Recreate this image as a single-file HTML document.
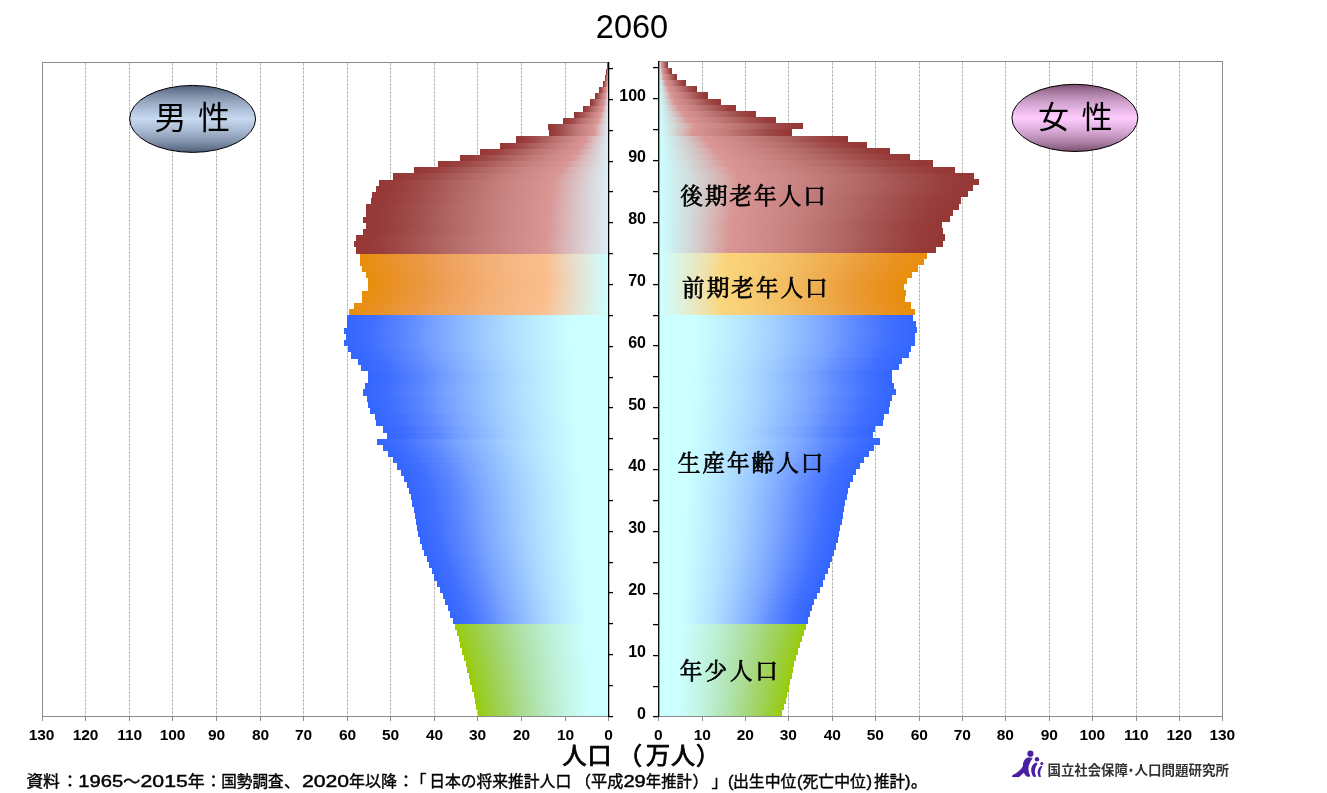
<!DOCTYPE html>
<html lang="ja"><head><meta charset="utf-8"><title>2060</title>
<style>html,body{margin:0;padding:0;background:#fff}svg{display:block}.ax{font-family:"Liberation Sans","Noto Sans CJK JP",sans-serif;font-weight:bold;fill:#000}.go{font-family:"Liberation Sans","Noto Sans CJK JP",sans-serif;fill:#000}.mi{font-family:"Liberation Serif","Noto Serif CJK SC",serif;font-weight:normal;fill:#000;stroke:#000;stroke-width:0.75px}</style></head><body>
<svg width="1327" height="793" viewBox="0 0 1327 793">
<defs>
<linearGradient id="mr" x1="0" y1="0" x2="1" y2="0"><stop offset="0.0000" stop-color="#953735"/><stop offset="0.0472" stop-color="#963a38"/><stop offset="0.0944" stop-color="#983e3c"/><stop offset="0.1416" stop-color="#9c4543"/><stop offset="0.1888" stop-color="#9f4b49"/><stop offset="0.2359" stop-color="#a45351"/><stop offset="0.2831" stop-color="#a95b59"/><stop offset="0.3303" stop-color="#af6361"/><stop offset="0.3775" stop-color="#b46a68"/><stop offset="0.4247" stop-color="#b9716f"/><stop offset="0.4719" stop-color="#bf7876"/><stop offset="0.5191" stop-color="#c47e7c"/><stop offset="0.5663" stop-color="#c98482"/><stop offset="0.6134" stop-color="#cd8987"/><stop offset="0.6606" stop-color="#d18d8b"/><stop offset="0.7078" stop-color="#d59290"/><stop offset="0.7550" stop-color="#d99694"/><stop offset="0.7703" stop-color="#d99d9c"/><stop offset="0.7856" stop-color="#d9a4a4"/><stop offset="0.8009" stop-color="#d9abab"/><stop offset="0.8163" stop-color="#dab1b2"/><stop offset="0.8316" stop-color="#dab7b9"/><stop offset="0.8469" stop-color="#dabdbf"/><stop offset="0.8622" stop-color="#dac2c5"/><stop offset="0.8775" stop-color="#dac8cb"/><stop offset="0.8928" stop-color="#dacdd1"/><stop offset="0.9081" stop-color="#dad2d6"/><stop offset="0.9234" stop-color="#dad7db"/><stop offset="0.9387" stop-color="#dbdce1"/><stop offset="0.9541" stop-color="#dbe1e6"/><stop offset="0.9694" stop-color="#dbe5eb"/><stop offset="0.9847" stop-color="#dbeaef"/><stop offset="1.0000" stop-color="#DBEEF4"/></linearGradient>
<linearGradient id="fr" x1="0" y1="0" x2="1" y2="0"><stop offset="0.0000" stop-color="#CCFFFF"/><stop offset="0.0153" stop-color="#cdfafa"/><stop offset="0.0306" stop-color="#cef5f5"/><stop offset="0.0459" stop-color="#cfefef"/><stop offset="0.0613" stop-color="#cfeaea"/><stop offset="0.0766" stop-color="#d0e4e4"/><stop offset="0.0919" stop-color="#d1dfde"/><stop offset="0.1072" stop-color="#d2d9d8"/><stop offset="0.1225" stop-color="#d3d2d2"/><stop offset="0.1378" stop-color="#d3cccb"/><stop offset="0.1531" stop-color="#d4c5c5"/><stop offset="0.1684" stop-color="#d5bebd"/><stop offset="0.1837" stop-color="#d6b7b6"/><stop offset="0.1991" stop-color="#d7b0ae"/><stop offset="0.2144" stop-color="#d7a8a6"/><stop offset="0.2297" stop-color="#d89f9d"/><stop offset="0.2450" stop-color="#d99694"/><stop offset="0.2922" stop-color="#d59290"/><stop offset="0.3394" stop-color="#d18d8b"/><stop offset="0.3866" stop-color="#cd8987"/><stop offset="0.4337" stop-color="#c98482"/><stop offset="0.4809" stop-color="#c47e7c"/><stop offset="0.5281" stop-color="#bf7876"/><stop offset="0.5753" stop-color="#b9716f"/><stop offset="0.6225" stop-color="#b46a68"/><stop offset="0.6697" stop-color="#af6361"/><stop offset="0.7169" stop-color="#a95b59"/><stop offset="0.7641" stop-color="#a45351"/><stop offset="0.8113" stop-color="#9f4b49"/><stop offset="0.8584" stop-color="#9c4543"/><stop offset="0.9056" stop-color="#983e3c"/><stop offset="0.9528" stop-color="#963a38"/><stop offset="1.0000" stop-color="#953735"/></linearGradient>
<linearGradient id="mo" x1="0" y1="0" x2="1" y2="0"><stop offset="0.0000" stop-color="#e88e0a"/><stop offset="0.0472" stop-color="#e88f18"/><stop offset="0.0944" stop-color="#e99021"/><stop offset="0.1416" stop-color="#e9932e"/><stop offset="0.1888" stop-color="#ea9538"/><stop offset="0.2359" stop-color="#eb9842"/><stop offset="0.2831" stop-color="#ed9c4d"/><stop offset="0.3303" stop-color="#eea057"/><stop offset="0.3775" stop-color="#efa45f"/><stop offset="0.4247" stop-color="#f1a867"/><stop offset="0.4719" stop-color="#f2ac6f"/><stop offset="0.5191" stop-color="#f4b076"/><stop offset="0.5663" stop-color="#f5b47c"/><stop offset="0.6134" stop-color="#f6b782"/><stop offset="0.6606" stop-color="#f8ba87"/><stop offset="0.7078" stop-color="#f9bd8b"/><stop offset="0.7550" stop-color="#fac090"/><stop offset="0.7703" stop-color="#f7c59a"/><stop offset="0.7856" stop-color="#f5c9a3"/><stop offset="0.8009" stop-color="#f2ceac"/><stop offset="0.8163" stop-color="#efd2b4"/><stop offset="0.8316" stop-color="#edd6bb"/><stop offset="0.8469" stop-color="#eadac3"/><stop offset="0.8622" stop-color="#e7deca"/><stop offset="0.8775" stop-color="#e4e2d1"/><stop offset="0.8928" stop-color="#e2e6d7"/><stop offset="0.9081" stop-color="#dfeadd"/><stop offset="0.9234" stop-color="#dcede3"/><stop offset="0.9387" stop-color="#d9f1e9"/><stop offset="0.9541" stop-color="#d6f5ef"/><stop offset="0.9694" stop-color="#d2f8f4"/><stop offset="0.9847" stop-color="#cffcfa"/><stop offset="1.0000" stop-color="#CCFFFF"/></linearGradient>
<linearGradient id="fo" x1="0" y1="0" x2="1" y2="0"><stop offset="0.0000" stop-color="#CCFFFF"/><stop offset="0.0153" stop-color="#cffdf9"/><stop offset="0.0306" stop-color="#d2faf3"/><stop offset="0.0459" stop-color="#d6f8ed"/><stop offset="0.0613" stop-color="#d9f6e7"/><stop offset="0.0766" stop-color="#dcf3e0"/><stop offset="0.0919" stop-color="#dff1d9"/><stop offset="0.1072" stop-color="#e2eed2"/><stop offset="0.1225" stop-color="#e4eccb"/><stop offset="0.1378" stop-color="#e7e9c3"/><stop offset="0.1531" stop-color="#eae6bb"/><stop offset="0.1684" stop-color="#ede4b2"/><stop offset="0.1837" stop-color="#efe1a9"/><stop offset="0.1991" stop-color="#f2dea0"/><stop offset="0.2144" stop-color="#f5dc95"/><stop offset="0.2297" stop-color="#f7d98a"/><stop offset="0.2450" stop-color="#fad67d"/><stop offset="0.2922" stop-color="#f9d279"/><stop offset="0.3394" stop-color="#f8ce75"/><stop offset="0.3866" stop-color="#f6ca71"/><stop offset="0.4337" stop-color="#f5c56c"/><stop offset="0.4809" stop-color="#f4c066"/><stop offset="0.5281" stop-color="#f2bb60"/><stop offset="0.5753" stop-color="#f1b559"/><stop offset="0.6225" stop-color="#efaf52"/><stop offset="0.6697" stop-color="#eeaa4b"/><stop offset="0.7169" stop-color="#eda443"/><stop offset="0.7641" stop-color="#eb9e3a"/><stop offset="0.8113" stop-color="#ea9930"/><stop offset="0.8584" stop-color="#e99528"/><stop offset="0.9056" stop-color="#e9911d"/><stop offset="0.9528" stop-color="#e89015"/><stop offset="1.0000" stop-color="#e88e0a"/></linearGradient>
<linearGradient id="mb" x1="0" y1="0" x2="1" y2="0"><stop offset="0.0000" stop-color="#3366ff"/><stop offset="0.0537" stop-color="#3a6bff"/><stop offset="0.1075" stop-color="#4170ff"/><stop offset="0.1613" stop-color="#4e7bff"/><stop offset="0.2150" stop-color="#5985ff"/><stop offset="0.2687" stop-color="#6691ff"/><stop offset="0.3225" stop-color="#749fff"/><stop offset="0.3762" stop-color="#80abff"/><stop offset="0.4300" stop-color="#8bb6ff"/><stop offset="0.4838" stop-color="#95c2ff"/><stop offset="0.5375" stop-color="#a0cdff"/><stop offset="0.5912" stop-color="#a9d7ff"/><stop offset="0.6450" stop-color="#b1e1ff"/><stop offset="0.6987" stop-color="#b9e9ff"/><stop offset="0.7525" stop-color="#bff1ff"/><stop offset="0.8063" stop-color="#c6f8ff"/><stop offset="0.8600" stop-color="#CCFFFF"/><stop offset="1.0000" stop-color="#CCFFFF"/></linearGradient>
<linearGradient id="fb" x1="0" y1="0" x2="1" y2="0"><stop offset="0.0000" stop-color="#CCFFFF"/><stop offset="0.1400" stop-color="#CCFFFF"/><stop offset="0.1937" stop-color="#c6f8ff"/><stop offset="0.2475" stop-color="#bff1ff"/><stop offset="0.3013" stop-color="#b9e9ff"/><stop offset="0.3550" stop-color="#b1e1ff"/><stop offset="0.4088" stop-color="#a9d7ff"/><stop offset="0.4625" stop-color="#a0cdff"/><stop offset="0.5162" stop-color="#95c2ff"/><stop offset="0.5700" stop-color="#8bb6ff"/><stop offset="0.6238" stop-color="#80abff"/><stop offset="0.6775" stop-color="#749fff"/><stop offset="0.7312" stop-color="#6691ff"/><stop offset="0.7850" stop-color="#5985ff"/><stop offset="0.8387" stop-color="#4e7bff"/><stop offset="0.8925" stop-color="#4170ff"/><stop offset="0.9463" stop-color="#3a6bff"/><stop offset="1.0000" stop-color="#3366ff"/></linearGradient>
<linearGradient id="mg" x1="0" y1="0" x2="1" y2="0"><stop offset="0.0000" stop-color="#99cc00"/><stop offset="0.0537" stop-color="#9acd27"/><stop offset="0.1075" stop-color="#9bce38"/><stop offset="0.1613" stop-color="#9ed150"/><stop offset="0.2150" stop-color="#a0d361"/><stop offset="0.2687" stop-color="#a4d675"/><stop offset="0.3225" stop-color="#a8da88"/><stop offset="0.3762" stop-color="#acde99"/><stop offset="0.4300" stop-color="#afe2a8"/><stop offset="0.4838" stop-color="#b3e6b6"/><stop offset="0.5375" stop-color="#b8eac5"/><stop offset="0.5912" stop-color="#bceed1"/><stop offset="0.6450" stop-color="#bff2dc"/><stop offset="0.6987" stop-color="#c3f6e6"/><stop offset="0.7525" stop-color="#c6f9ee"/><stop offset="0.8063" stop-color="#c9fcf7"/><stop offset="0.8600" stop-color="#CCFFFF"/><stop offset="1.0000" stop-color="#CCFFFF"/></linearGradient>
<linearGradient id="fg" x1="0" y1="0" x2="1" y2="0"><stop offset="0.0000" stop-color="#CCFFFF"/><stop offset="0.1400" stop-color="#CCFFFF"/><stop offset="0.1937" stop-color="#c9fcf7"/><stop offset="0.2475" stop-color="#c6f9ee"/><stop offset="0.3013" stop-color="#c3f6e6"/><stop offset="0.3550" stop-color="#bff2dc"/><stop offset="0.4088" stop-color="#bceed1"/><stop offset="0.4625" stop-color="#b8eac5"/><stop offset="0.5162" stop-color="#b3e6b6"/><stop offset="0.5700" stop-color="#afe2a8"/><stop offset="0.6238" stop-color="#acde99"/><stop offset="0.6775" stop-color="#a8da88"/><stop offset="0.7312" stop-color="#a4d675"/><stop offset="0.7850" stop-color="#a0d361"/><stop offset="0.8387" stop-color="#9ed150"/><stop offset="0.8925" stop-color="#9bce38"/><stop offset="0.9463" stop-color="#9acd27"/><stop offset="1.0000" stop-color="#99cc00"/></linearGradient>
<linearGradient id="em" x1="0" y1="0" x2="0" y2="1"><stop offset="0.0000" stop-color="#4a5a78"/><stop offset="0.0625" stop-color="#65748e"/><stop offset="0.1250" stop-color="#7988a1"/><stop offset="0.1875" stop-color="#8999b1"/><stop offset="0.2500" stop-color="#98a8c0"/><stop offset="0.3125" stop-color="#a5b6ce"/><stop offset="0.3750" stop-color="#b1c3da"/><stop offset="0.4375" stop-color="#bccee6"/><stop offset="0.5000" stop-color="#c6d9f1"/><stop offset="0.5625" stop-color="#bccee6"/><stop offset="0.6250" stop-color="#b1c3da"/><stop offset="0.6875" stop-color="#a5b6ce"/><stop offset="0.7500" stop-color="#98a8c0"/><stop offset="0.8125" stop-color="#8999b1"/><stop offset="0.8750" stop-color="#7988a1"/><stop offset="0.9375" stop-color="#65748e"/><stop offset="1.0000" stop-color="#4A5A78"/></linearGradient>
<linearGradient id="ef" x1="0" y1="0" x2="0" y2="1"><stop offset="0.0000" stop-color="#7a4b6c"/><stop offset="0.0625" stop-color="#93678a"/><stop offset="0.1250" stop-color="#a87ca1"/><stop offset="0.1875" stop-color="#ba8db5"/><stop offset="0.2500" stop-color="#ca9cc6"/><stop offset="0.3125" stop-color="#d9aad6"/><stop offset="0.3750" stop-color="#e6b6e5"/><stop offset="0.4375" stop-color="#f3c1f2"/><stop offset="0.5000" stop-color="#ffccff"/><stop offset="0.5625" stop-color="#f3c1f2"/><stop offset="0.6250" stop-color="#e6b6e5"/><stop offset="0.6875" stop-color="#d9aad6"/><stop offset="0.7500" stop-color="#ca9cc6"/><stop offset="0.8125" stop-color="#ba8db5"/><stop offset="0.8750" stop-color="#a87ca1"/><stop offset="0.9375" stop-color="#93678a"/><stop offset="1.0000" stop-color="#7A4B6C"/></linearGradient>
</defs>
<rect width="1327" height="793" fill="#fff"/>
<g stroke="#b8b8b8" stroke-width="1" stroke-dasharray="3 1" shape-rendering="crispEdges" fill="none">
<line x1="565.5" y1="63" x2="565.5" y2="716"/>
<line x1="521.5" y1="63" x2="521.5" y2="716"/>
<line x1="477.5" y1="63" x2="477.5" y2="716"/>
<line x1="434.5" y1="63" x2="434.5" y2="716"/>
<line x1="390.5" y1="63" x2="390.5" y2="716"/>
<line x1="347.5" y1="63" x2="347.5" y2="716"/>
<line x1="303.5" y1="63" x2="303.5" y2="716"/>
<line x1="260.5" y1="63" x2="260.5" y2="716"/>
<line x1="216.5" y1="63" x2="216.5" y2="716"/>
<line x1="172.5" y1="63" x2="172.5" y2="716"/>
<line x1="129.5" y1="63" x2="129.5" y2="716"/>
<line x1="85.5" y1="63" x2="85.5" y2="716"/>
<line x1="702.5" y1="62" x2="702.5" y2="716"/>
<line x1="745.5" y1="62" x2="745.5" y2="716"/>
<line x1="788.5" y1="62" x2="788.5" y2="716"/>
<line x1="832.5" y1="62" x2="832.5" y2="716"/>
<line x1="875.5" y1="62" x2="875.5" y2="716"/>
<line x1="919.5" y1="62" x2="919.5" y2="716"/>
<line x1="962.5" y1="62" x2="962.5" y2="716"/>
<line x1="1005.5" y1="62" x2="1005.5" y2="716"/>
<line x1="1049.5" y1="62" x2="1049.5" y2="716"/>
<line x1="1092.5" y1="62" x2="1092.5" y2="716"/>
<line x1="1136.5" y1="62" x2="1136.5" y2="716"/>
<line x1="1179.5" y1="62" x2="1179.5" y2="716"/>
</g>
<g stroke="#8c8c8c" stroke-width="1" shape-rendering="crispEdges" fill="none">
<path d="M42.5 721V62.5H609"/>
<path d="M659 61.5H1222.5V721"/>
<path d="M42 716.5H609M659 716.5H1223"/>
<line x1="608.5" y1="717" x2="608.5" y2="721"/>
<line x1="658.5" y1="717" x2="658.5" y2="721"/>
<line x1="565.5" y1="717" x2="565.5" y2="721"/>
<line x1="702.5" y1="717" x2="702.5" y2="721"/>
<line x1="521.5" y1="717" x2="521.5" y2="721"/>
<line x1="745.5" y1="717" x2="745.5" y2="721"/>
<line x1="477.5" y1="717" x2="477.5" y2="721"/>
<line x1="788.5" y1="717" x2="788.5" y2="721"/>
<line x1="434.5" y1="717" x2="434.5" y2="721"/>
<line x1="832.5" y1="717" x2="832.5" y2="721"/>
<line x1="390.5" y1="717" x2="390.5" y2="721"/>
<line x1="875.5" y1="717" x2="875.5" y2="721"/>
<line x1="347.5" y1="717" x2="347.5" y2="721"/>
<line x1="919.5" y1="717" x2="919.5" y2="721"/>
<line x1="303.5" y1="717" x2="303.5" y2="721"/>
<line x1="962.5" y1="717" x2="962.5" y2="721"/>
<line x1="260.5" y1="717" x2="260.5" y2="721"/>
<line x1="1005.5" y1="717" x2="1005.5" y2="721"/>
<line x1="216.5" y1="717" x2="216.5" y2="721"/>
<line x1="1049.5" y1="717" x2="1049.5" y2="721"/>
<line x1="172.5" y1="717" x2="172.5" y2="721"/>
<line x1="1092.5" y1="717" x2="1092.5" y2="721"/>
<line x1="129.5" y1="717" x2="129.5" y2="721"/>
<line x1="1136.5" y1="717" x2="1136.5" y2="721"/>
<line x1="85.5" y1="717" x2="85.5" y2="721"/>
<line x1="1179.5" y1="717" x2="1179.5" y2="721"/>
</g>
<g shape-rendering="crispEdges">
<rect x="477.8" y="710.13" width="130.9" height="6.17" fill="url(#mg)"/>
<rect x="476.4" y="703.96" width="132.3" height="6.17" fill="url(#mg)"/>
<rect x="475.1" y="697.79" width="133.6" height="6.17" fill="url(#mg)"/>
<rect x="473.6" y="691.62" width="135.1" height="6.17" fill="url(#mg)"/>
<rect x="472.1" y="685.46" width="136.6" height="6.17" fill="url(#mg)"/>
<rect x="470.4" y="679.29" width="138.3" height="6.17" fill="url(#mg)"/>
<rect x="468.9" y="673.12" width="139.8" height="6.17" fill="url(#mg)"/>
<rect x="467.4" y="666.95" width="141.3" height="6.17" fill="url(#mg)"/>
<rect x="465.9" y="660.78" width="142.8" height="6.17" fill="url(#mg)"/>
<rect x="464.3" y="654.61" width="144.4" height="6.17" fill="url(#mg)"/>
<rect x="462.4" y="648.44" width="146.3" height="6.17" fill="url(#mg)"/>
<rect x="460.4" y="642.27" width="148.3" height="6.17" fill="url(#mg)"/>
<rect x="458.6" y="636.10" width="150.1" height="6.17" fill="url(#mg)"/>
<rect x="456.6" y="629.94" width="152.1" height="6.17" fill="url(#mg)"/>
<rect x="454.5" y="623.77" width="154.2" height="6.17" fill="url(#mg)"/>
<rect x="452.5" y="617.60" width="156.2" height="6.17" fill="url(#mb)"/>
<rect x="450.0" y="611.43" width="158.7" height="6.17" fill="url(#mb)"/>
<rect x="447.5" y="605.26" width="161.2" height="6.17" fill="url(#mb)"/>
<rect x="445.0" y="599.09" width="163.7" height="6.17" fill="url(#mb)"/>
<rect x="442.5" y="592.92" width="166.2" height="6.17" fill="url(#mb)"/>
<rect x="439.6" y="586.75" width="169.1" height="6.17" fill="url(#mb)"/>
<rect x="437.0" y="580.58" width="171.7" height="6.17" fill="url(#mb)"/>
<rect x="434.3" y="574.42" width="174.4" height="6.17" fill="url(#mb)"/>
<rect x="431.6" y="568.25" width="177.1" height="6.17" fill="url(#mb)"/>
<rect x="429.1" y="562.08" width="179.6" height="6.17" fill="url(#mb)"/>
<rect x="426.6" y="555.91" width="182.1" height="6.17" fill="url(#mb)"/>
<rect x="424.3" y="549.74" width="184.4" height="6.17" fill="url(#mb)"/>
<rect x="422.1" y="543.57" width="186.6" height="6.17" fill="url(#mb)"/>
<rect x="420.0" y="537.40" width="188.7" height="6.17" fill="url(#mb)"/>
<rect x="418.1" y="531.23" width="190.6" height="6.17" fill="url(#mb)"/>
<rect x="416.9" y="525.07" width="191.8" height="6.17" fill="url(#mb)"/>
<rect x="415.8" y="518.90" width="192.9" height="6.17" fill="url(#mb)"/>
<rect x="414.6" y="512.73" width="194.1" height="6.17" fill="url(#mb)"/>
<rect x="413.6" y="506.56" width="195.1" height="6.17" fill="url(#mb)"/>
<rect x="412.4" y="500.39" width="196.3" height="6.17" fill="url(#mb)"/>
<rect x="411.3" y="494.22" width="197.4" height="6.17" fill="url(#mb)"/>
<rect x="409.4" y="488.05" width="199.3" height="6.17" fill="url(#mb)"/>
<rect x="407.1" y="481.88" width="201.6" height="6.17" fill="url(#mb)"/>
<rect x="404.1" y="475.71" width="204.6" height="6.17" fill="url(#mb)"/>
<rect x="401.1" y="469.55" width="207.6" height="6.17" fill="url(#mb)"/>
<rect x="397.1" y="463.38" width="211.6" height="6.17" fill="url(#mb)"/>
<rect x="392.9" y="457.21" width="215.8" height="6.17" fill="url(#mb)"/>
<rect x="388.3" y="451.04" width="220.4" height="6.17" fill="url(#mb)"/>
<rect x="383.3" y="444.87" width="225.4" height="6.17" fill="url(#mb)"/>
<rect x="377.1" y="438.70" width="231.6" height="6.17" fill="url(#mb)"/>
<rect x="387.1" y="432.53" width="221.6" height="6.17" fill="url(#mb)"/>
<rect x="383.3" y="426.36" width="225.4" height="6.17" fill="url(#mb)"/>
<rect x="376.3" y="420.19" width="232.4" height="6.17" fill="url(#mb)"/>
<rect x="375.0" y="414.03" width="233.7" height="6.17" fill="url(#mb)"/>
<rect x="369.5" y="407.86" width="239.2" height="6.17" fill="url(#mb)"/>
<rect x="368.3" y="401.69" width="240.4" height="6.17" fill="url(#mb)"/>
<rect x="367.0" y="395.52" width="241.7" height="6.17" fill="url(#mb)"/>
<rect x="363.3" y="389.35" width="245.4" height="6.17" fill="url(#mb)"/>
<rect x="365.3" y="383.18" width="243.4" height="6.17" fill="url(#mb)"/>
<rect x="368.0" y="377.01" width="240.7" height="6.17" fill="url(#mb)"/>
<rect x="368.0" y="370.84" width="240.7" height="6.17" fill="url(#mb)"/>
<rect x="361.3" y="364.67" width="247.4" height="6.17" fill="url(#mb)"/>
<rect x="358.0" y="358.51" width="250.7" height="6.17" fill="url(#mb)"/>
<rect x="351.4" y="352.34" width="257.3" height="6.17" fill="url(#mb)"/>
<rect x="348.1" y="346.17" width="260.6" height="6.17" fill="url(#mb)"/>
<rect x="343.5" y="340.00" width="265.2" height="6.17" fill="url(#mb)"/>
<rect x="345.5" y="333.83" width="263.2" height="6.17" fill="url(#mb)"/>
<rect x="343.5" y="327.66" width="265.2" height="6.17" fill="url(#mb)"/>
<rect x="346.5" y="321.49" width="262.2" height="6.17" fill="url(#mb)"/>
<rect x="346.8" y="315.32" width="261.9" height="6.17" fill="url(#mb)"/>
<rect x="349.3" y="309.15" width="259.4" height="6.17" fill="url(#mo)"/>
<rect x="353.5" y="302.99" width="255.2" height="6.17" fill="url(#mo)"/>
<rect x="362.3" y="296.82" width="246.4" height="6.17" fill="url(#mo)"/>
<rect x="362.3" y="290.65" width="246.4" height="6.17" fill="url(#mo)"/>
<rect x="368.0" y="284.48" width="240.7" height="6.17" fill="url(#mo)"/>
<rect x="368.0" y="278.31" width="240.7" height="6.17" fill="url(#mo)"/>
<rect x="366.1" y="272.14" width="242.6" height="6.17" fill="url(#mo)"/>
<rect x="362.0" y="265.97" width="246.7" height="6.17" fill="url(#mo)"/>
<rect x="360.0" y="259.80" width="248.7" height="6.17" fill="url(#mo)"/>
<rect x="360.0" y="253.63" width="248.7" height="6.17" fill="url(#mo)"/>
<rect x="356.1" y="247.47" width="252.6" height="6.17" fill="url(#mr)"/>
<rect x="354.1" y="241.30" width="254.6" height="6.17" fill="url(#mr)"/>
<rect x="356.1" y="235.13" width="252.6" height="6.17" fill="url(#mr)"/>
<rect x="362.5" y="228.96" width="246.2" height="6.17" fill="url(#mr)"/>
<rect x="366.1" y="222.79" width="242.6" height="6.17" fill="url(#mr)"/>
<rect x="363.0" y="216.62" width="245.7" height="6.17" fill="url(#mr)"/>
<rect x="366.1" y="210.45" width="242.6" height="6.17" fill="url(#mr)"/>
<rect x="366.1" y="204.28" width="242.6" height="6.17" fill="url(#mr)"/>
<rect x="370.8" y="198.12" width="237.9" height="6.17" fill="url(#mr)"/>
<rect x="372.1" y="191.95" width="236.6" height="6.17" fill="url(#mr)"/>
<rect x="376.3" y="185.78" width="232.4" height="6.17" fill="url(#mr)"/>
<rect x="379.1" y="179.61" width="229.6" height="6.17" fill="url(#mr)"/>
<rect x="393.1" y="173.44" width="215.6" height="6.17" fill="url(#mr)"/>
<rect x="414.1" y="167.27" width="194.6" height="6.17" fill="url(#mr)"/>
<rect x="438.1" y="161.10" width="170.6" height="6.17" fill="url(#mr)"/>
<rect x="460.1" y="154.93" width="148.6" height="6.17" fill="url(#mr)"/>
<rect x="480.1" y="148.76" width="128.6" height="6.17" fill="url(#mr)"/>
<rect x="500.1" y="142.60" width="108.6" height="6.17" fill="url(#mr)"/>
<rect x="516.1" y="136.43" width="92.6" height="6.17" fill="url(#mr)"/>
<rect x="549.1" y="130.26" width="59.6" height="6.17" fill="url(#mr)"/>
<rect x="548.3" y="124.09" width="60.4" height="6.17" fill="url(#mr)"/>
<rect x="563.3" y="117.92" width="45.4" height="6.17" fill="url(#mr)"/>
<rect x="574.1" y="111.75" width="34.6" height="6.17" fill="url(#mr)"/>
<rect x="583.3" y="105.58" width="25.4" height="6.17" fill="url(#mr)"/>
<rect x="590.1" y="99.41" width="18.6" height="6.17" fill="url(#mr)"/>
<rect x="595.3" y="93.24" width="13.4" height="6.17" fill="url(#mr)"/>
<rect x="599.3" y="87.08" width="9.4" height="6.17" fill="url(#mr)"/>
<rect x="603.3" y="80.91" width="5.4" height="6.17" fill="url(#mr)"/>
<rect x="605.0" y="74.74" width="3.7" height="6.17" fill="url(#mr)"/>
<rect x="606.3" y="68.57" width="2.4" height="6.17" fill="url(#mr)"/>
<rect x="607.3" y="62.40" width="1.4" height="6.17" fill="url(#mr)"/>
<rect x="659.2" y="710.12" width="122.7" height="6.18" fill="url(#fg)"/>
<rect x="659.2" y="703.95" width="124.6" height="6.18" fill="url(#fg)"/>
<rect x="659.2" y="697.77" width="126.6" height="6.18" fill="url(#fg)"/>
<rect x="659.2" y="691.59" width="127.9" height="6.18" fill="url(#fg)"/>
<rect x="659.2" y="685.41" width="129.4" height="6.18" fill="url(#fg)"/>
<rect x="659.2" y="679.24" width="130.7" height="6.18" fill="url(#fg)"/>
<rect x="659.2" y="673.06" width="132.4" height="6.18" fill="url(#fg)"/>
<rect x="659.2" y="666.88" width="133.7" height="6.18" fill="url(#fg)"/>
<rect x="659.2" y="660.70" width="135.2" height="6.18" fill="url(#fg)"/>
<rect x="659.2" y="654.53" width="136.9" height="6.18" fill="url(#fg)"/>
<rect x="659.2" y="648.35" width="138.7" height="6.18" fill="url(#fg)"/>
<rect x="659.2" y="642.17" width="140.7" height="6.18" fill="url(#fg)"/>
<rect x="659.2" y="635.99" width="142.7" height="6.18" fill="url(#fg)"/>
<rect x="659.2" y="629.82" width="144.9" height="6.18" fill="url(#fg)"/>
<rect x="659.2" y="623.64" width="146.9" height="6.18" fill="url(#fg)"/>
<rect x="659.2" y="617.46" width="148.7" height="6.18" fill="url(#fb)"/>
<rect x="659.2" y="611.28" width="150.7" height="6.18" fill="url(#fb)"/>
<rect x="659.2" y="605.11" width="152.7" height="6.18" fill="url(#fb)"/>
<rect x="659.2" y="598.93" width="154.9" height="6.18" fill="url(#fb)"/>
<rect x="659.2" y="592.75" width="157.7" height="6.18" fill="url(#fb)"/>
<rect x="659.2" y="586.58" width="160.7" height="6.18" fill="url(#fb)"/>
<rect x="659.2" y="580.40" width="163.5" height="6.18" fill="url(#fb)"/>
<rect x="659.2" y="574.22" width="165.7" height="6.18" fill="url(#fb)"/>
<rect x="659.2" y="568.04" width="168.5" height="6.18" fill="url(#fb)"/>
<rect x="659.2" y="561.87" width="170.7" height="6.18" fill="url(#fb)"/>
<rect x="659.2" y="555.69" width="172.7" height="6.18" fill="url(#fb)"/>
<rect x="659.2" y="549.51" width="174.5" height="6.18" fill="url(#fb)"/>
<rect x="659.2" y="543.33" width="176.5" height="6.18" fill="url(#fb)"/>
<rect x="659.2" y="537.16" width="178.3" height="6.18" fill="url(#fb)"/>
<rect x="659.2" y="530.98" width="179.8" height="6.18" fill="url(#fb)"/>
<rect x="659.2" y="524.80" width="181.2" height="6.18" fill="url(#fb)"/>
<rect x="659.2" y="518.62" width="182.3" height="6.18" fill="url(#fb)"/>
<rect x="659.2" y="512.45" width="183.5" height="6.18" fill="url(#fb)"/>
<rect x="659.2" y="506.27" width="184.5" height="6.18" fill="url(#fb)"/>
<rect x="659.2" y="500.09" width="185.7" height="6.18" fill="url(#fb)"/>
<rect x="659.2" y="493.92" width="187.3" height="6.18" fill="url(#fb)"/>
<rect x="659.2" y="487.74" width="188.5" height="6.18" fill="url(#fb)"/>
<rect x="659.2" y="481.56" width="190.7" height="6.18" fill="url(#fb)"/>
<rect x="659.2" y="475.38" width="193.6" height="6.18" fill="url(#fb)"/>
<rect x="659.2" y="469.21" width="196.6" height="6.18" fill="url(#fb)"/>
<rect x="659.2" y="463.03" width="200.7" height="6.18" fill="url(#fb)"/>
<rect x="659.2" y="456.85" width="204.9" height="6.18" fill="url(#fb)"/>
<rect x="659.2" y="450.67" width="209.9" height="6.18" fill="url(#fb)"/>
<rect x="659.2" y="444.50" width="214.9" height="6.18" fill="url(#fb)"/>
<rect x="659.2" y="438.32" width="220.7" height="6.18" fill="url(#fb)"/>
<rect x="659.2" y="432.14" width="213.7" height="6.18" fill="url(#fb)"/>
<rect x="659.2" y="425.96" width="216.0" height="6.18" fill="url(#fb)"/>
<rect x="659.2" y="419.79" width="223.7" height="6.18" fill="url(#fb)"/>
<rect x="659.2" y="413.61" width="224.5" height="6.18" fill="url(#fb)"/>
<rect x="659.2" y="407.43" width="229.4" height="6.18" fill="url(#fb)"/>
<rect x="659.2" y="401.25" width="230.7" height="6.18" fill="url(#fb)"/>
<rect x="659.2" y="395.08" width="232.9" height="6.18" fill="url(#fb)"/>
<rect x="659.2" y="388.90" width="236.5" height="6.18" fill="url(#fb)"/>
<rect x="659.2" y="382.72" width="234.4" height="6.18" fill="url(#fb)"/>
<rect x="659.2" y="376.55" width="232.7" height="6.18" fill="url(#fb)"/>
<rect x="659.2" y="370.37" width="232.7" height="6.18" fill="url(#fb)"/>
<rect x="659.2" y="364.19" width="239.9" height="6.18" fill="url(#fb)"/>
<rect x="659.2" y="358.01" width="242.9" height="6.18" fill="url(#fb)"/>
<rect x="659.2" y="351.84" width="249.4" height="6.18" fill="url(#fb)"/>
<rect x="659.2" y="345.66" width="252.0" height="6.18" fill="url(#fb)"/>
<rect x="659.2" y="339.48" width="255.7" height="6.18" fill="url(#fb)"/>
<rect x="659.2" y="333.30" width="255.7" height="6.18" fill="url(#fb)"/>
<rect x="659.2" y="327.13" width="257.7" height="6.18" fill="url(#fb)"/>
<rect x="659.2" y="320.95" width="256.5" height="6.18" fill="url(#fb)"/>
<rect x="659.2" y="314.77" width="253.7" height="6.18" fill="url(#fb)"/>
<rect x="659.2" y="308.59" width="255.7" height="6.18" fill="url(#fo)"/>
<rect x="659.2" y="302.42" width="252.0" height="6.18" fill="url(#fo)"/>
<rect x="659.2" y="296.24" width="245.7" height="6.18" fill="url(#fo)"/>
<rect x="659.2" y="290.06" width="246.5" height="6.18" fill="url(#fo)"/>
<rect x="659.2" y="283.88" width="244.9" height="6.18" fill="url(#fo)"/>
<rect x="659.2" y="277.71" width="247.7" height="6.18" fill="url(#fo)"/>
<rect x="659.2" y="271.53" width="252.7" height="6.18" fill="url(#fo)"/>
<rect x="659.2" y="265.35" width="259.0" height="6.18" fill="url(#fo)"/>
<rect x="659.2" y="259.18" width="264.8" height="6.18" fill="url(#fo)"/>
<rect x="659.2" y="253.00" width="267.7" height="6.18" fill="url(#fo)"/>
<rect x="659.2" y="246.82" width="276.8" height="6.18" fill="url(#fr)"/>
<rect x="659.2" y="240.64" width="284.0" height="6.18" fill="url(#fr)"/>
<rect x="659.2" y="234.47" width="285.7" height="6.18" fill="url(#fr)"/>
<rect x="659.2" y="228.29" width="284.0" height="6.18" fill="url(#fr)"/>
<rect x="659.2" y="222.11" width="282.8" height="6.18" fill="url(#fr)"/>
<rect x="659.2" y="215.93" width="290.6" height="6.18" fill="url(#fr)"/>
<rect x="659.2" y="209.76" width="294.0" height="6.18" fill="url(#fr)"/>
<rect x="659.2" y="203.58" width="299.8" height="6.18" fill="url(#fr)"/>
<rect x="659.2" y="197.40" width="301.8" height="6.18" fill="url(#fr)"/>
<rect x="659.2" y="191.22" width="308.6" height="6.18" fill="url(#fr)"/>
<rect x="659.2" y="185.05" width="314.0" height="6.18" fill="url(#fr)"/>
<rect x="659.2" y="178.87" width="319.8" height="6.18" fill="url(#fr)"/>
<rect x="659.2" y="172.69" width="314.8" height="6.18" fill="url(#fr)"/>
<rect x="659.2" y="166.52" width="295.6" height="6.18" fill="url(#fr)"/>
<rect x="659.2" y="160.34" width="273.7" height="6.18" fill="url(#fr)"/>
<rect x="659.2" y="154.16" width="250.7" height="6.18" fill="url(#fr)"/>
<rect x="659.2" y="147.98" width="230.7" height="6.18" fill="url(#fr)"/>
<rect x="659.2" y="141.81" width="207.7" height="6.18" fill="url(#fr)"/>
<rect x="659.2" y="135.63" width="188.7" height="6.18" fill="url(#fr)"/>
<rect x="659.2" y="129.45" width="132.6" height="6.18" fill="url(#fr)"/>
<rect x="659.2" y="123.27" width="143.7" height="6.18" fill="url(#fr)"/>
<rect x="659.2" y="117.10" width="116.9" height="6.18" fill="url(#fr)"/>
<rect x="659.2" y="110.92" width="96.8" height="6.18" fill="url(#fr)"/>
<rect x="659.2" y="104.74" width="76.8" height="6.18" fill="url(#fr)"/>
<rect x="659.2" y="98.56" width="61.8" height="6.18" fill="url(#fr)"/>
<rect x="659.2" y="92.39" width="48.8" height="6.18" fill="url(#fr)"/>
<rect x="659.2" y="86.21" width="37.8" height="6.18" fill="url(#fr)"/>
<rect x="659.2" y="80.03" width="26.6" height="6.18" fill="url(#fr)"/>
<rect x="659.2" y="73.85" width="17.8" height="6.18" fill="url(#fr)"/>
<rect x="659.2" y="67.68" width="12.7" height="6.18" fill="url(#fr)"/>
<rect x="659.2" y="61.50" width="8.7" height="6.18" fill="url(#fr)"/>
</g>
<g stroke="#000" fill="none">
<line x1="608.65" y1="62" x2="608.65" y2="717" stroke-width="1.3"/>
<line x1="658.7" y1="61" x2="658.7" y2="717" stroke-width="1.3"/>
<line x1="609" y1="716.60" x2="613" y2="716.60" stroke-width="1.3"/>
<line x1="653" y1="716.60" x2="658.5" y2="716.60" stroke-width="1.3"/>
<line x1="609" y1="685.60" x2="613" y2="685.60" stroke-width="1.3"/>
<line x1="653" y1="686.60" x2="658.5" y2="686.60" stroke-width="1.3"/>
<line x1="609" y1="654.60" x2="613" y2="654.60" stroke-width="1.3"/>
<line x1="653" y1="655.60" x2="658.5" y2="655.60" stroke-width="1.3"/>
<line x1="609" y1="623.60" x2="613" y2="623.60" stroke-width="1.3"/>
<line x1="653" y1="624.60" x2="658.5" y2="624.60" stroke-width="1.3"/>
<line x1="609" y1="592.60" x2="613" y2="592.60" stroke-width="1.3"/>
<line x1="653" y1="593.60" x2="658.5" y2="593.60" stroke-width="1.3"/>
<line x1="609" y1="562.60" x2="613" y2="562.60" stroke-width="1.3"/>
<line x1="653" y1="562.60" x2="658.5" y2="562.60" stroke-width="1.3"/>
<line x1="609" y1="531.60" x2="613" y2="531.60" stroke-width="1.3"/>
<line x1="653" y1="531.60" x2="658.5" y2="531.60" stroke-width="1.3"/>
<line x1="609" y1="500.60" x2="613" y2="500.60" stroke-width="1.3"/>
<line x1="653" y1="500.60" x2="658.5" y2="500.60" stroke-width="1.3"/>
<line x1="609" y1="469.60" x2="613" y2="469.60" stroke-width="1.3"/>
<line x1="653" y1="469.60" x2="658.5" y2="469.60" stroke-width="1.3"/>
<line x1="609" y1="438.60" x2="613" y2="438.60" stroke-width="1.3"/>
<line x1="653" y1="438.60" x2="658.5" y2="438.60" stroke-width="1.3"/>
<line x1="609" y1="407.60" x2="613" y2="407.60" stroke-width="1.3"/>
<line x1="653" y1="407.60" x2="658.5" y2="407.60" stroke-width="1.3"/>
<line x1="609" y1="377.60" x2="613" y2="377.60" stroke-width="1.3"/>
<line x1="653" y1="376.60" x2="658.5" y2="376.60" stroke-width="1.3"/>
<line x1="609" y1="346.60" x2="613" y2="346.60" stroke-width="1.3"/>
<line x1="653" y1="345.60" x2="658.5" y2="345.60" stroke-width="1.3"/>
<line x1="609" y1="315.60" x2="613" y2="315.60" stroke-width="1.3"/>
<line x1="653" y1="315.60" x2="658.5" y2="315.60" stroke-width="1.3"/>
<line x1="609" y1="284.60" x2="613" y2="284.60" stroke-width="1.3"/>
<line x1="653" y1="284.60" x2="658.5" y2="284.60" stroke-width="1.3"/>
<line x1="609" y1="253.60" x2="613" y2="253.60" stroke-width="1.3"/>
<line x1="653" y1="253.60" x2="658.5" y2="253.60" stroke-width="1.3"/>
<line x1="609" y1="222.60" x2="613" y2="222.60" stroke-width="1.3"/>
<line x1="653" y1="222.60" x2="658.5" y2="222.60" stroke-width="1.3"/>
<line x1="609" y1="191.60" x2="613" y2="191.60" stroke-width="1.3"/>
<line x1="653" y1="191.60" x2="658.5" y2="191.60" stroke-width="1.3"/>
<line x1="609" y1="161.60" x2="613" y2="161.60" stroke-width="1.3"/>
<line x1="653" y1="160.60" x2="658.5" y2="160.60" stroke-width="1.3"/>
<line x1="609" y1="130.60" x2="613" y2="130.60" stroke-width="1.3"/>
<line x1="653" y1="129.60" x2="658.5" y2="129.60" stroke-width="1.3"/>
<line x1="609" y1="99.60" x2="613" y2="99.60" stroke-width="1.3"/>
<line x1="653" y1="98.60" x2="658.5" y2="98.60" stroke-width="1.3"/>
<line x1="609" y1="68.60" x2="613" y2="68.60" stroke-width="1.3"/>
<line x1="653" y1="67.60" x2="658.5" y2="67.60" stroke-width="1.3"/>
</g>
<g class="ax" font-size="16" text-anchor="end">
<text x="646" y="718.6">0</text>
<text x="646" y="656.6">10</text>
<text x="646" y="594.6">20</text>
<text x="646" y="532.6">30</text>
<text x="646" y="470.6">40</text>
<text x="646" y="409.6">50</text>
<text x="646" y="347.6">60</text>
<text x="646" y="285.6">70</text>
<text x="646" y="223.6">80</text>
<text x="646" y="161.6">90</text>
<text x="646" y="100.6">100</text>
</g>
<g class="ax" font-size="15.5" text-anchor="middle" letter-spacing="-0.1">
<text x="608.6" y="739.9">0</text>
<text x="658.3" y="739.9">0</text>
<text x="565.6" y="739.9">10</text>
<text x="702.3" y="739.9">10</text>
<text x="521.6" y="739.9">20</text>
<text x="745.3" y="739.9">20</text>
<text x="477.6" y="739.9">30</text>
<text x="788.3" y="739.9">30</text>
<text x="434.6" y="739.9">40</text>
<text x="832.3" y="739.9">40</text>
<text x="390.6" y="739.9">50</text>
<text x="875.3" y="739.9">50</text>
<text x="347.6" y="739.9">60</text>
<text x="919.3" y="739.9">60</text>
<text x="303.6" y="739.9">70</text>
<text x="962.3" y="739.9">70</text>
<text x="260.6" y="739.9">80</text>
<text x="1005.3" y="739.9">80</text>
<text x="216.6" y="739.9">90</text>
<text x="1049.3" y="739.9">90</text>
<text x="172.6" y="739.9">100</text>
<text x="1092.3" y="739.9">100</text>
<text x="129.6" y="739.9">110</text>
<text x="1136.3" y="739.9">110</text>
<text x="85.6" y="739.9">120</text>
<text x="1179.3" y="739.9">120</text>
<text x="41.6" y="739.9">130</text>
<text x="1222.3" y="739.9">130</text>
</g>
<text class="go" x="632" y="38.3" font-size="32.5" text-anchor="middle">2060</text>
<ellipse cx="192.6" cy="118.9" rx="63" ry="33.5" fill="url(#em)" stroke="#000" stroke-width="1"/>
<ellipse cx="1074.9" cy="117.9" rx="63" ry="33.6" fill="url(#ef)" stroke="#000" stroke-width="1"/>
<text class="go" font-size="32" y="129.4"><tspan x="154.4">男</tspan><tspan x="198.0">性</tspan></text>
<text class="go" font-size="31" y="128.2"><tspan x="1038">女</tspan><tspan x="1081.6">性</tspan></text>
<g class="mi" font-size="22.5">
<text x="680.3" y="203.8" textLength="145.5">後期老年人口</text>
<text x="682.1" y="295.6" textLength="145.5">前期老年人口</text>
<text x="677.8" y="470.7" textLength="145.5">生産年齢人口</text>
<text x="679.7" y="679.0" textLength="98">年少人口</text>
</g>
<text class="go" font-size="24" y="764.2" stroke="#000" stroke-width="0.85"><tspan x="562.5">人</tspan><tspan x="587.5">口</tspan><tspan x="618">（</tspan><tspan x="646">万</tspan><tspan x="671">人</tspan><tspan x="696">）</tspan></text>
<text class="go" font-size="16" y="787.3" stroke="#000" stroke-width="0.4"><tspan x="26.2" textLength="33.8" lengthAdjust="spacingAndGlyphs">資料</tspan><tspan x="62.0" textLength="16.0" lengthAdjust="spacingAndGlyphs">：</tspan><tspan x="78.3" textLength="44.8" lengthAdjust="spacingAndGlyphs">1965</tspan><tspan x="123.1" textLength="17.4" lengthAdjust="spacingAndGlyphs">～</tspan><tspan x="140.5" textLength="47.3" lengthAdjust="spacingAndGlyphs">2015</tspan><tspan x="187.8" textLength="17.0" lengthAdjust="spacingAndGlyphs">年</tspan><tspan x="205.5" textLength="16.0" lengthAdjust="spacingAndGlyphs">：</tspan><tspan x="221.3" textLength="62.2" lengthAdjust="spacingAndGlyphs">国勢調査</tspan><tspan x="284.0" textLength="16.0" lengthAdjust="spacingAndGlyphs">、</tspan><tspan x="301.9" textLength="47.2" lengthAdjust="spacingAndGlyphs">2020</tspan><tspan x="349.1" textLength="47.8" lengthAdjust="spacingAndGlyphs">年以降</tspan><tspan x="398.0" textLength="16.0" lengthAdjust="spacingAndGlyphs">：</tspan><tspan x="410.5" textLength="16.0" lengthAdjust="spacingAndGlyphs">「</tspan><tspan x="429.2" textLength="142.0" lengthAdjust="spacingAndGlyphs">日本の将来推計人口</tspan><tspan x="575.0" textLength="16.0" lengthAdjust="spacingAndGlyphs">（</tspan><tspan x="591.0" textLength="32.4" lengthAdjust="spacingAndGlyphs">平成</tspan><tspan x="623.4" textLength="22.4" lengthAdjust="spacingAndGlyphs">29</tspan><tspan x="645.8" textLength="46.0" lengthAdjust="spacingAndGlyphs">年推計</tspan><tspan x="692.5" textLength="16.0" lengthAdjust="spacingAndGlyphs">）</tspan><tspan x="711.5" textLength="16.0" lengthAdjust="spacingAndGlyphs">」</tspan><tspan x="728.0" textLength="5.5" lengthAdjust="spacingAndGlyphs">(</tspan><tspan x="733.0" textLength="63.5" lengthAdjust="spacingAndGlyphs">出生中位</tspan><tspan x="797.0" textLength="5.5" lengthAdjust="spacingAndGlyphs">(</tspan><tspan x="802.5" textLength="63.5" lengthAdjust="spacingAndGlyphs">死亡中位</tspan><tspan x="866.5" textLength="5.5" lengthAdjust="spacingAndGlyphs">)</tspan><tspan x="874.0" textLength="31.0" lengthAdjust="spacingAndGlyphs">推計</tspan><tspan x="905.0" textLength="5.5" lengthAdjust="spacingAndGlyphs">)</tspan><tspan x="911.0" textLength="16.0" lengthAdjust="spacingAndGlyphs">。</tspan></text>
<g transform="translate(1005 745) scale(0.04664)" fill="#4b1fa0">
<circle cx="545" cy="185" r="66"/>
<path d="M470 272C520 262 565 265 595 280C545 350 490 450 505 540C515 600 530 640 545 665C540 685 470 690 450 665C435 645 415 615 400 595C370 625 330 670 300 685C250 692 190 692 150 688C150 665 155 650 175 640C270 590 350 520 385 450C375 380 410 310 470 272Z"/>
<circle cx="685" cy="305" r="48"/>
<path d="M640 385C665 378 690 385 700 395C660 450 635 520 640 580C645 625 660 655 668 672C660 690 620 690 600 672C575 630 555 570 562 510C570 455 600 410 640 385Z"/>
<circle cx="790" cy="395" r="33"/>
<path d="M765 455C780 448 795 452 800 460C775 500 755 550 755 600C755 635 765 660 772 675C765 690 735 690 722 675C705 645 695 600 702 560C710 515 735 475 765 455Z"/>
</g>
<text class="go" font-size="13.3" font-weight="bold" y="775.2" style="fill:#333"><tspan x="1047.6" textLength="80.2" lengthAdjust="spacingAndGlyphs">国立社会保障</tspan><tspan x="1125.5" textLength="11.0" lengthAdjust="spacingAndGlyphs">・</tspan><tspan x="1134.4" textLength="94.6" lengthAdjust="spacingAndGlyphs">人口問題研究所</tspan></text>
</svg></body></html>
